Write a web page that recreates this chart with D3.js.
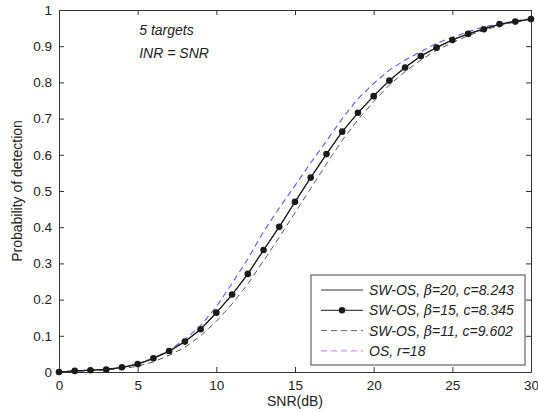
<!DOCTYPE html>
<html>
<head>
<meta charset="utf-8">
<script src="https://cdn.jsdelivr.net/npm/d3@7"></script>
<style>
  body { margin: 0; background: #fff; }
  text { font-family: "Liberation Sans", Arial, sans-serif; fill: #222; }
</style>
</head>
<body>
<div id="canvas"></div>
<script>
const snr = d3.range(0, 31);

const swos20 = [0, 0.003, 0.005, 0.007, 0.012, 0.021, 0.037, 0.057, 0.083, 0.117, 0.163, 0.213, 0.27, 0.336, 0.401, 0.47, 0.537, 0.602, 0.664, 0.716, 0.763, 0.806, 0.842, 0.873, 0.897, 0.918, 0.934, 0.948, 0.96, 0.968, 0.975];
const swos15 = [0, 0.003, 0.005, 0.007, 0.013, 0.022, 0.038, 0.058, 0.084, 0.118, 0.164, 0.214, 0.271, 0.337, 0.401, 0.47, 0.537, 0.602, 0.664, 0.716, 0.762, 0.805, 0.841, 0.873, 0.896, 0.917, 0.934, 0.947, 0.961, 0.968, 0.975];
const swos11 = [0, 0.002, 0.004, 0.006, 0.009, 0.016, 0.028, 0.046, 0.068, 0.1, 0.14, 0.188, 0.243, 0.307, 0.372, 0.44, 0.507, 0.575, 0.64, 0.697, 0.747, 0.793, 0.83, 0.862, 0.889, 0.91, 0.929, 0.944, 0.957, 0.967, 0.975];
const os18 = [0, 0.002, 0.004, 0.007, 0.013, 0.022, 0.038, 0.06, 0.09, 0.128, 0.18, 0.245, 0.312, 0.388, 0.453, 0.515, 0.578, 0.638, 0.7, 0.755, 0.797, 0.834, 0.862, 0.885, 0.908, 0.925, 0.94, 0.953, 0.962, 0.97, 0.976];

const xTicks = [0, 5, 10, 15, 20, 25, 30];
const yTicks = [0, 0.1, 0.2, 0.3, 0.4, 0.5, 0.6, 0.7, 0.8, 0.9, 1];

const legendLabels = [
  { name: "SW-OS", beta: "20", c: "8.243" },
  { name: "SW-OS", beta: "15", c: "8.345" },
  { name: "SW-OS", beta: "11", c: "9.602" },
  { name: "OS", r: "18" }
];

const margin = { top: 10, right: 7, bottom: 40, left: 59 },
    width = 538 - margin.left - margin.right,
    height = 412 - margin.top - margin.bottom;

const svg = d3.select("#canvas")
    .append("svg")
    .attr("width", 538)
    .attr("height", 412)
    .append("g")
    .attr("transform", `translate(${margin.left},${margin.top})`);

const x = d3.scaleLinear().domain([0, 30]).range([0, width]);
const y = d3.scaleLinear().domain([0, 1]).range([height, 0]);

// axes, MATLAB style: ticks inward on all four sides
const axisColor = "#333";
svg.append("g")
    .attr("transform", `translate(0,${height})`)
    .call(d3.axisBottom(x).tickValues(xTicks).tickSizeInner(-5).tickSizeOuter(0).tickPadding(8))
    .call(g => g.selectAll("text").style("font-size", "13.5px"));
svg.append("g")
    .call(d3.axisLeft(y).tickValues(yTicks).tickFormat(d3.format("")).tickSizeInner(-5).tickSizeOuter(0).tickPadding(7))
    .call(g => g.selectAll("text").style("font-size", "13.5px"));
svg.append("g")
    .call(d3.axisTop(x).tickValues(xTicks).tickSizeInner(-5).tickSizeOuter(0).tickFormat(""));
svg.append("g")
    .attr("transform", `translate(${width},0)`)
    .call(d3.axisRight(y).tickValues(yTicks).tickSizeInner(-5).tickSizeOuter(0).tickFormat(""));
svg.selectAll(".domain, .tick line").attr("stroke", axisColor);

const line = d3.line()
    .x((d, i) => x(snr[i]))
    .y(d => y(d));

const series = [
  { data: swos11, color: "#555", dash: "6,4", width: 1 },
  { data: os18, color: "#6a4cf0", dash: "6,4", width: 1.1 },
  { data: swos20, color: "#333", dash: null, width: 1 },
  { data: swos15, color: "#1a1a1a", dash: null, width: 1.2 }
];

series.forEach(s => {
  svg.append("path")
      .datum(s.data)
      .attr("fill", "none")
      .attr("stroke", s.color)
      .attr("stroke-width", s.width)
      .attr("stroke-dasharray", s.dash)
      .attr("d", line);
});

// markers for beta=15
svg.append("g")
    .selectAll("circle")
    .data(swos15)
    .join("circle")
    .attr("cx", (d, i) => x(snr[i]))
    .attr("cy", d => y(d))
    .attr("r", 3.3)
    .attr("fill", "#1a1a1a");

// annotations
svg.append("text")
    .attr("x", x(5.1))
    .attr("y", 25)
    .style("font-size", "14px")
    .style("font-style", "italic")
    .text("5 targets");
svg.append("text")
    .attr("x", x(5.1))
    .attr("y", 48)
    .style("font-size", "14px")
    .style("font-style", "italic")
    .text("INR = SNR");

// axis labels
svg.append("text")
    .attr("x", x(15))
    .attr("y", height + 34)
    .attr("text-anchor", "middle")
    .style("font-size", "14px")
    .text("SNR(dB)");
svg.append("text")
    .attr("transform", `translate(-37,${height / 2}) rotate(-90)`)
    .attr("text-anchor", "middle")
    .style("font-size", "14px")
    .text("Probability of detection");

// legend
const lg = svg.append("g").attr("transform", `translate(${311 - margin.left},${275 - margin.top})`);
lg.append("rect")
    .attr("width", 214)
    .attr("height", 90)
    .attr("fill", "#fff")
    .attr("stroke", "#444")
    .attr("stroke-width", 1);

const legendStyles = [
  { color: "#333", dash: null, marker: false },
  { color: "#1a1a1a", dash: null, marker: true },
  { color: "#666", dash: "6,4", marker: false },
  { color: "#b57cff", dash: "6,4", marker: false }
];

legendLabels.forEach((l, i) => {
  const row = lg.append("g").attr("transform", `translate(0,${15 + i * 20.3})`);
  const st = legendStyles[i];
  row.append("line")
      .attr("x1", 10).attr("x2", 52)
      .attr("stroke", st.color)
      .attr("stroke-width", 1)
      .attr("stroke-dasharray", st.dash);
  if (st.marker) {
    row.append("circle").attr("cx", 31).attr("r", 3.3).attr("fill", "#1a1a1a");
  }
  const t = row.append("text")
      .attr("x", 58)
      .attr("y", 5)
      .style("font-size", "14px")
      .style("font-style", "italic");
  if (l.beta) {
    t.append("tspan").text(`${l.name}, `);
    t.append("tspan").style("font-family", "DejaVu Serif, serif").text("β");
    t.append("tspan").text(`=${l.beta}, c=${l.c}`);
  } else {
    t.append("tspan").text(`${l.name}, r=${l.r}`);
  }
});
</script>
</body>
</html>
